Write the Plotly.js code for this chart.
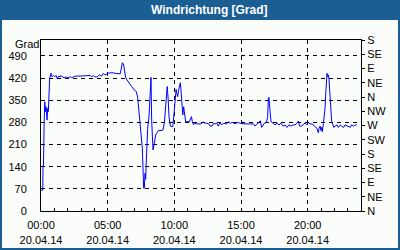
<!DOCTYPE html>
<html><head><meta charset="utf-8">
<script src="https://cdn.plot.ly/plotly-3.0.1.min.js"></script>
<style>html,body{margin:0;padding:0;background:#fbfdfb;}#chart{width:400px;height:250px;}</style>
</head><body><div id="chart"></div>
<script>
const chartTitle = "Windrichtung [Grad]";
const unitLabel = "Grad";
// minutes since 00:00 on 20.04.14
const minutes = [0,8,9,11,14,17,20,23,27,30,33,36,39,45,50,55,61,68,73,80,86,90,95,104,113,123,131,138,146,155,176,206,221,228,236,243,254,263,273,281,288,303,318,333,348,356,360,366,371,375,381,387,396,408,420,429,435,438,444,450,456,462,465,468,471,474,477,480,486,491,495,498,504,510,516,522,528,540,549,555,561,566,568,572,576,582,588,593,596,600,608,611,615,620,624,627,630,633,638,642,647,651,668,672,677,681,686,692,701,716,725,731,737,746,755,761,770,776,783,791,798,806,813,821,828,836,843,851,858,866,873,881,888,896,918,941,956,963,969,975,981,987,993,999,1005,1014,1020,1023,1026,1029,1032,1035,1041,1047,1053,1062,1071,1080,1089,1098,1107,1116,1125,1134,1143,1152,1158,1164,1173,1182,1189,1197,1203,1212,1221,1230,1236,1242,1248,1251,1256,1260,1263,1266,1271,1275,1278,1281,1284,1287,1290,1293,1296,1299,1302,1305,1308,1314,1317,1323,1332,1338,1347,1353,1362,1368,1377,1383,1392,1398,1407,1416,1422];
const direction = [66,66,140,140,277,345,314,329,287,324,314,387,419,435,424,428,424,428,418,426,423,428,424,421,423,421,424,421,423,426,426,428,428,424,428,423,424,430,426,435,430,435,437,435,435,433,445,468,465,450,422,414,403,393,382,377,359,335,287,256,198,72,72,119,100,161,224,261,298,350,422,287,193,214,240,247,254,254,256,277,335,372,393,356,298,268,266,266,287,324,384,372,361,384,393,405,382,335,303,329,303,282,282,293,298,282,272,277,275,275,277,282,277,277,275,268,268,277,275,277,268,279,272,277,277,275,282,277,279,279,275,279,279,277,275,275,275,268,272,277,282,285,264,272,277,279,296,356,359,329,296,282,279,275,272,277,272,277,268,272,264,272,268,272,272,277,284,268,268,275,277,272,279,275,275,268,264,261,247,261,268,254,264,250,277,298,324,366,403,435,424,430,416,372,329,287,282,272,264,268,272,264,272,268,264,272,268,266,264,272,268,272,272];
const leftTicks = [0,70,140,210,280,350,420,490];
const rightTicks = [0,45,90,135,180,225,270,315,360,405,450,495,540];
const rightLabels = ["N","NE","E","SE","S","SW","W","NW","N","NE","E","SE","S"];
const xTickHours = [0,5,10,15,20];
const xTickLabels = ["00:00<br>20.04.14","05:00<br>20.04.14","10:00<br>20.04.14","15:00<br>20.04.14","20:00<br>20.04.14"];

const hours = minutes.map(m => m/60);
const F = "Liberation Sans, Arial, sans-serif";
const bg = "#fbfdfb";
const frame = "#1b5e94";

const trace = {x: hours, y: direction, type: "scatter", mode: "lines",
  line: {color: "#0000ff", width: 1}, hoverinfo: "skip", showlegend: false};
const trace2 = {x: [0], y: [0], yaxis: "y2", type: "scatter", mode: "markers",
  marker: {opacity: 0}, hoverinfo: "skip", showlegend: false};

const layout = {
  width: 400, height: 250,
  margin: {l: 41, r: 39, t: 40, b: 39},
  paper_bgcolor: bg, plot_bgcolor: bg,
  font: {family: F, size: 11, color: "#000"},
  xaxis: {range: [0, 24], tickvals: xTickHours, ticktext: xTickLabels,
    showline: true, linecolor: "#000", linewidth: 1, mirror: true,
    ticks: "inside", ticklen: 3, tickcolor: "#000", ticklabelstandoff: 4,
    minor: {dtick: 1, ticks: "inside", ticklen: 3, tickcolor: "#000", showgrid: false},
    showgrid: true, gridcolor: "#000", griddash: "4px,4px", gridwidth: 1,
    zeroline: false, fixedrange: true, tickfont: {family: F, size: 11}},
  yaxis: {range: [0, 540], tickvals: leftTicks, showline: true, linecolor: "#000", mirror: true,
    ticks: "", ticklabelstandoff: 11,
    showgrid: true, gridcolor: "#000", griddash: "4px,4px", gridwidth: 1,
    zeroline: false, fixedrange: true, tickfont: {family: F, size: 11}},
  yaxis2: {range: [0, 540], overlaying: "y", side: "right", tickvals: rightTicks, ticktext: rightLabels,
    ticks: "outside", ticklen: 3, tickcolor: "#000", showgrid: false, zeroline: false,
    showline: false, fixedrange: true, ticklabelstandoff: 0, tickfont: {family: F, size: 11}},
  shapes: [
    {type: "rect", xref: "paper", yref: "paper", x0: -41/320, x1: 359/320, y0: 191/171, y1: 211/171,
      fillcolor: frame, line: {width: 0}, layer: "above"},
    {type: "rect", xref: "paper", yref: "paper", x0: -40/320, x1: 358/320, y0: -38/171, y1: 210/171,
      fillcolor: "rgba(0,0,0,0)", line: {color: frame, width: 2}, layer: "above"}
  ],
  annotations: [
    {text: "<b>" + chartTitle + "</b>", xref: "paper", yref: "paper", x: (209.5-41)/320, y: 201/171,
      xanchor: "center", yanchor: "middle", showarrow: false, font: {family: F, size: 12, color: "#fff"}},
    {text: unitLabel, xref: "paper", yref: "paper", x: (13-41)/320, y: (211-44)/171,
      xanchor: "left", yanchor: "middle", showarrow: false, font: {family: F, size: 11, color: "#000"}}
  ]
};
Plotly.newPlot("chart", [trace, trace2], layout, {staticPlot: true, displayModeBar: false});
</script></body></html>
